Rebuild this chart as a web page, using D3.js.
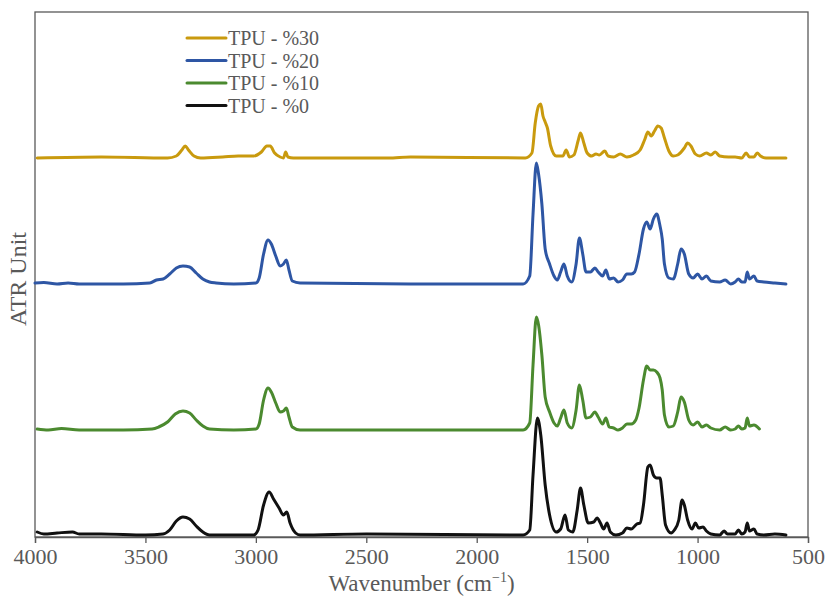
<!DOCTYPE html>
<html>
<head>
<meta charset="utf-8">
<script src="https://cdn.jsdelivr.net/npm/d3@7"></script>
<style>
  body { margin: 0; background: #fff; }
  text { font-family: "Liberation Serif", "DejaVu Serif", serif; fill: #595959; }
  .tick text { font-size: 22px; }
  .tick line, .domain { stroke: #595959; }
  .trace { fill: none; stroke-width: 3; stroke-linejoin: round; stroke-linecap: round; }
</style>
</head>
<body>
<svg id="chart" width="827" height="596"></svg>
<script>
// series labels, colours and vertical offsets (ATR units)
const labels = ["TPU - %30", "TPU - %20", "TPU - %10", "TPU - %0"];
const colors = ["#c99a0e", "#2e56a4", "#4b8a2f", "#111111"];
const offsets = [3.79, 2.53, 1.07, 0.02];
const xTicks = [4000, 3500, 3000, 2500, 2000, 1500, 1000, 500];

// [wavenumber, intensity]
const tpu30 = [
  [3990, 0.0], [3700, 0.01], [3400, 0.0], [3360, 0.02], [3335, 0.08], [3320, 0.12], [3305, 0.08],
  [3280, 0.02], [3250, 0.0], [3150, 0.01], [3080, 0.02], [3010, 0.02], [2975, 0.06], [2950, 0.12],
  [2935, 0.12], [2915, 0.05], [2890, 0.01], [2875, 0.0], [2865, 0.06], [2855, 0.01], [2830, 0.0],
  [2400, 0.0], [2300, 0.01], [1780, 0.0], [1750, 0.05], [1735, 0.35], [1720, 0.52], [1710, 0.54],
  [1700, 0.42], [1690, 0.36], [1680, 0.3], [1665, 0.12], [1640, 0.02], [1610, 0.02], [1595, 0.08],
  [1580, 0.01], [1560, 0.03], [1540, 0.18], [1530, 0.25], [1515, 0.15], [1500, 0.05], [1480, 0.02],
  [1460, 0.04], [1445, 0.03], [1420, 0.07], [1405, 0.02], [1380, 0.01], [1350, 0.04], [1320, 0.01],
  [1290, 0.03], [1260, 0.08], [1240, 0.18], [1225, 0.26], [1210, 0.22], [1195, 0.27], [1180, 0.32],
  [1165, 0.3], [1150, 0.2], [1130, 0.07], [1110, 0.02], [1090, 0.03], [1060, 0.1], [1045, 0.15],
  [1030, 0.12], [1010, 0.04], [990, 0.02], [960, 0.05], [940, 0.03], [920, 0.06], [900, 0.02],
  [860, 0.01], [830, 0.01], [800, 0.0], [780, 0.05], [765, 0.01], [745, 0.01], [730, 0.05],
  [715, 0.02], [690, 0.0], [600, 0.0]
];

const tpu20 = [
  [4000, 0.01], [3960, 0.015], [3900, 0.0], [3850, 0.01], [3800, 0.0], [3600, 0.0], [3480, 0.01],
  [3450, 0.04], [3420, 0.05], [3390, 0.1], [3360, 0.16], [3330, 0.18], [3300, 0.17], [3270, 0.11],
  [3240, 0.05], [3210, 0.02], [3180, 0.01], [3100, 0.0], [3000, 0.01], [2985, 0.06], [2965, 0.3],
  [2945, 0.44], [2930, 0.4], [2910, 0.28], [2890, 0.18], [2875, 0.2], [2862, 0.24], [2850, 0.14],
  [2835, 0.03], [2800, 0.01], [2300, 0.0], [1790, 0.0], [1760, 0.08], [1745, 0.7], [1730, 1.21],
  [1720, 1.1], [1705, 0.8], [1690, 0.35], [1670, 0.2], [1650, 0.08], [1635, 0.04], [1620, 0.12],
  [1605, 0.2], [1590, 0.08], [1570, 0.02], [1550, 0.2], [1535, 0.46], [1520, 0.3], [1505, 0.12],
  [1485, 0.12], [1465, 0.16], [1450, 0.12], [1430, 0.08], [1415, 0.14], [1400, 0.05], [1380, 0.06],
  [1360, 0.02], [1340, 0.04], [1320, 0.1], [1300, 0.1], [1285, 0.12], [1265, 0.3], [1245, 0.55],
  [1230, 0.62], [1215, 0.55], [1200, 0.65], [1185, 0.7], [1170, 0.58], [1160, 0.45], [1150, 0.2],
  [1130, 0.06], [1110, 0.05], [1090, 0.2], [1075, 0.35], [1060, 0.3], [1040, 0.1], [1020, 0.06],
  [1000, 0.1], [980, 0.05], [960, 0.08], [940, 0.03], [900, 0.02], [875, 0.04], [850, 0.0],
  [830, 0.02], [815, 0.05], [800, 0.02], [785, 0.02], [775, 0.12], [765, 0.05], [745, 0.08],
  [730, 0.03], [700, 0.02], [650, 0.01], [600, 0.0]
];

const tpu10 = [
  [3990, 0.01], [3940, 0.0], [3880, 0.015], [3800, 0.0], [3600, 0.0], [3470, 0.01], [3440, 0.03],
  [3400, 0.08], [3365, 0.16], [3330, 0.19], [3300, 0.17], [3270, 0.1], [3240, 0.04], [3210, 0.01],
  [3100, 0.0], [3000, 0.01], [2985, 0.06], [2965, 0.3], [2945, 0.42], [2930, 0.38], [2910, 0.27],
  [2890, 0.18], [2875, 0.19], [2862, 0.22], [2850, 0.13], [2835, 0.03], [2800, 0.0], [1790, 0.0],
  [1760, 0.07], [1745, 0.65], [1730, 1.13], [1720, 1.05], [1705, 0.75], [1690, 0.33], [1670, 0.18],
  [1650, 0.07], [1635, 0.04], [1620, 0.12], [1605, 0.2], [1590, 0.07], [1570, 0.02], [1550, 0.2],
  [1535, 0.45], [1520, 0.3], [1505, 0.12], [1485, 0.13], [1465, 0.18], [1450, 0.13], [1430, 0.06],
  [1415, 0.12], [1400, 0.03], [1380, 0.02], [1360, 0.0], [1340, 0.02], [1320, 0.06], [1300, 0.06],
  [1280, 0.1], [1265, 0.22], [1245, 0.5], [1230, 0.64], [1215, 0.6], [1200, 0.6], [1185, 0.58],
  [1170, 0.52], [1160, 0.4], [1150, 0.15], [1130, 0.03], [1110, 0.04], [1090, 0.18], [1075, 0.33],
  [1060, 0.28], [1040, 0.1], [1020, 0.05], [1000, 0.08], [980, 0.03], [960, 0.05], [940, 0.02],
  [900, 0.0], [875, 0.03], [850, 0.0], [830, 0.01], [815, 0.04], [800, 0.01], [785, 0.02],
  [775, 0.12], [765, 0.04], [745, 0.05], [720, 0.01]
];

const tpu0 = [
  [3990, 0.03], [3960, 0.01], [3900, 0.02], [3830, 0.03], [3800, 0.01], [3700, 0.01], [3500, 0.0],
  [3420, 0.01], [3390, 0.05], [3360, 0.14], [3330, 0.18], [3300, 0.16], [3270, 0.09], [3240, 0.03],
  [3210, 0.0], [3010, 0.0], [2990, 0.05], [2965, 0.3], [2940, 0.43], [2920, 0.36], [2895, 0.27],
  [2875, 0.2], [2860, 0.23], [2845, 0.12], [2820, 0.02], [2800, 0.0], [2500, 0.01], [1790, 0.0],
  [1760, 0.05], [1745, 0.6], [1725, 1.17], [1710, 1.0], [1690, 0.5], [1670, 0.2], [1640, 0.03],
  [1620, 0.06], [1600, 0.2], [1585, 0.05], [1565, 0.03], [1545, 0.25], [1530, 0.47], [1515, 0.3],
  [1495, 0.12], [1470, 0.13], [1455, 0.17], [1440, 0.12], [1425, 0.06], [1410, 0.12], [1395, 0.03],
  [1370, 0.0], [1340, 0.02], [1320, 0.07], [1300, 0.06], [1275, 0.11], [1260, 0.12], [1245, 0.3],
  [1225, 0.68], [1215, 0.7], [1200, 0.6], [1185, 0.57], [1170, 0.57], [1160, 0.4], [1145, 0.1],
  [1120, 0.02], [1105, 0.05], [1085, 0.15], [1070, 0.35], [1060, 0.3], [1045, 0.15], [1025, 0.06],
  [1010, 0.12], [995, 0.07], [975, 0.08], [960, 0.04], [940, 0.01], [900, 0.0], [880, 0.04],
  [865, 0.01], [830, 0.01], [815, 0.05], [800, 0.01], [785, 0.03], [775, 0.12], [765, 0.04],
  [745, 0.06], [730, 0.01], [700, 0.0], [650, 0.01], [600, 0.0]
];

const series = [tpu30, tpu20, tpu10, tpu0];

const svg = d3.select("#chart");
const margin = { top: 12, right: 19, bottom: 59, left: 35 };
const width = 827 - margin.left - margin.right;
const height = 596 - margin.top - margin.bottom;

const g = svg.append("g").attr("transform", `translate(${margin.left},${margin.top})`);

const x = d3.scaleLinear().domain([4000, 500]).range([0, width]);
const y = d3.scaleLinear().domain([0, 5.25]).range([height, 0]);

// frame
g.append("rect")
  .attr("width", width).attr("height", height)
  .attr("fill", "none").attr("stroke", "#595959").attr("stroke-width", 1.3);

const xAxis = g.append("g")
  .attr("transform", `translate(0,${height})`)
  .call(d3.axisBottom(x).tickValues(xTicks).tickSize(6).tickPadding(5).tickFormat(d3.format("d")));
xAxis.select(".domain").attr("stroke-width", 1.3);
xAxis.selectAll(".tick line").attr("stroke-width", 1.3);
xAxis.selectAll(".tick text").attr("fill", "#595959");

// traces
series.forEach((data, i) => {
  const line = d3.line()
    .x(d => x(d[0]))
    .y(d => y(d[1] + offsets[i]))
    .curve(d3.curveMonotoneX);
  g.append("path")
    .datum(data.slice().reverse())
    .attr("class", "trace")
    .attr("stroke", colors[i])
    .attr("d", line);
});

// axis titles
const xTitle = svg.append("text")
  .attr("x", margin.left + width / 2).attr("y", 591)
  .attr("text-anchor", "middle").attr("font-size", 23);
xTitle.append("tspan").text("Wavenumber (cm");
xTitle.append("tspan").attr("font-size", 14).attr("dy", -9).text("\u22121");
xTitle.append("tspan").attr("dy", 9).text(")");

svg.append("text")
  .attr("transform", `translate(26,279) rotate(-90)`)
  .attr("text-anchor", "middle").attr("font-size", 24)
  .text("ATR Unit");

// legend
const legend = svg.append("g").attr("transform", "translate(187,38)");
labels.forEach((lab, i) => {
  const row = legend.append("g").attr("transform", `translate(0,${i * 22.5})`);
  row.append("line").attr("x1", 0).attr("x2", 39)
    .attr("stroke", colors[i]).attr("stroke-width", 3).attr("stroke-linecap", "round");
  row.append("text").attr("x", 41).attr("dy", "0.35em")
    .attr("font-size", 20).text(lab);
});
</script>
</body>
</html>
